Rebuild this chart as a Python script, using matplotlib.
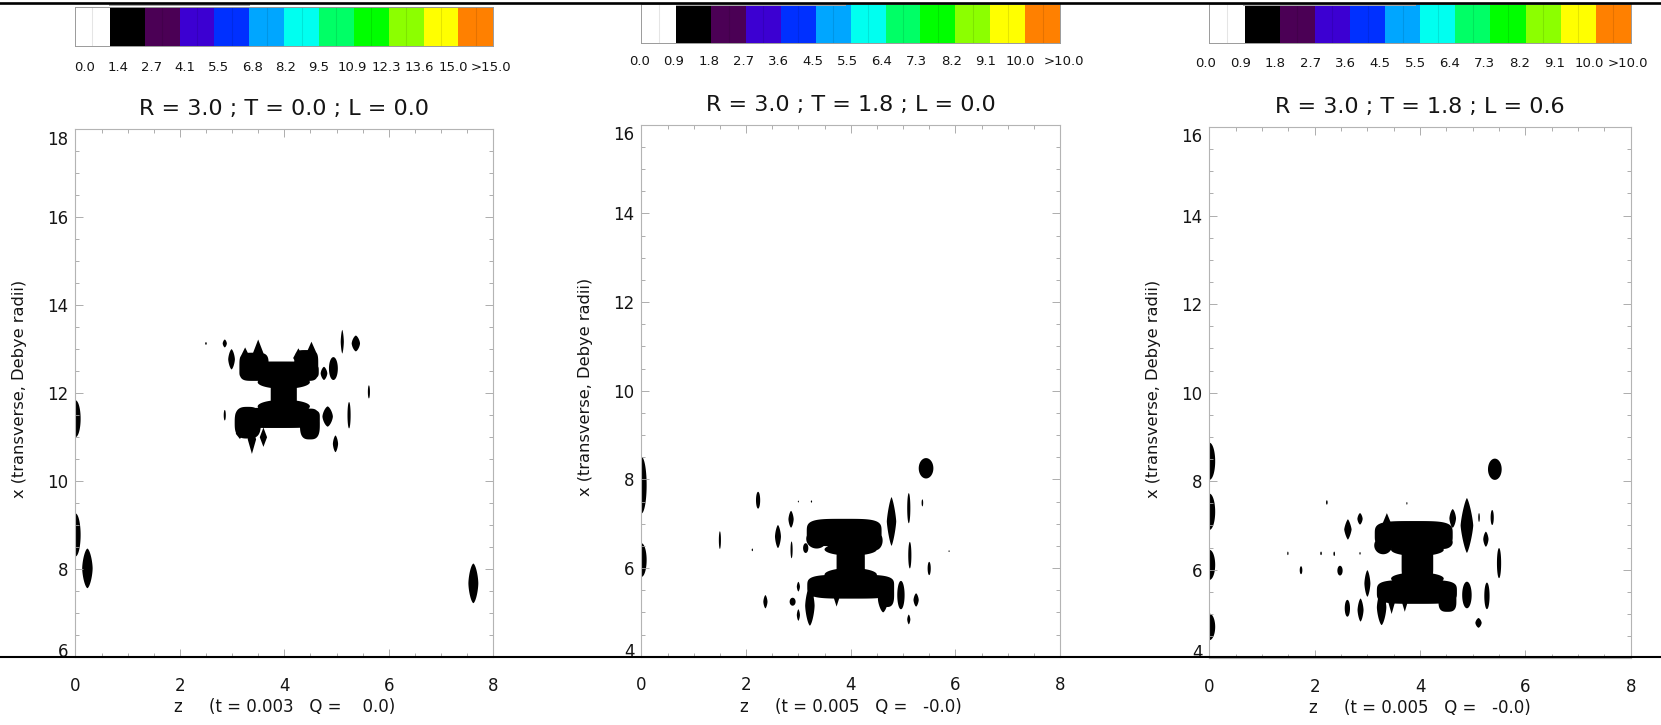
import numpy as np
import matplotlib
matplotlib.use("Agg")
import matplotlib.pyplot as plt
from matplotlib.colors import ListedColormap
from matplotlib.lines import Line2D
from matplotlib.patches import Rectangle
from matplotlib.transforms import ScaledTranslation, blended_transform_factory

plt.rcParams['font.family'] = ['DejaVu Sans']

W, H = 1661, 725

# ---------------- data ----------------
cb_colors = ['#ffffff', '#000000', '#4b0055', '#3c00d2', '#0030ff', '#00a6ff',
             '#00fff0', '#00ff66', '#00ff00', '#8cff00', '#ffff00', '#ff8000']
levels_p1 = [0.0, 1.4, 2.7, 4.1, 5.5, 6.8, 8.2, 9.5, 10.9, 12.3, 13.6, 15.0]
levels_p23 = [0.0, 0.9, 1.8, 2.7, 3.6, 4.5, 5.5, 6.4, 7.3, 8.2, 9.1, 10.0]
cb_labels_p1 = ['0.0', '1.4', '2.7', '4.1', '5.5', '6.8', '8.2', '9.5', '10.9',
                '12.3', '13.6', '15.0', '>15.0']
cb_labels_p23 = ['0.0', '0.9', '1.8', '2.7', '3.6', '4.5', '5.5', '6.4', '7.3',
                 '8.2', '9.1', '10.0', '>10.0']

titles = ['R = 3.0 ; T = 0.0 ; L = 0.0',
          'R = 3.0 ; T = 1.8 ; L = 0.0',
          'R = 3.0 ; T = 1.8 ; L = 0.6']
xlabels = ['z     (t = 0.003   Q =    0.0)',
           'z     (t = 0.005   Q =   -0.0)',
           'z     (t = 0.005   Q =   -0.0)']
ylabel = 'x (transverse, Debye radii)'

z_range = (0.0, 8.0)
z_ticks = [0, 2, 4, 6, 8]
x_range_p1 = (6.0, 18.0)
x_range_p23 = (4.0, 16.0)
x_ticks_p1 = [6, 8, 10, 12, 14, 16, 18]
x_ticks_p23 = [4, 6, 8, 10, 12, 14, 16]

# density blobs: centre z, centre x, half size in z, half size in x, shape exponent
p1_z = [3.90, 3.42, 4.42, 3.50, 3.25, 4.27, 4.52, 3.99, 3.99, 3.99, 3.87, 3.30, 4.49, 3.38, 3.60, 3.15,
        2.86, 2.99, 2.50, 5.11, 5.37, 4.94, 4.76, 5.62, 2.86, 4.83, 5.24, 4.98,
        0.00, 0.00, 0.23, 7.62]
p1_x = [12.50, 12.60, 12.63, 12.85, 12.80, 12.80, 12.85, 11.98, 12.25, 11.70, 11.44, 11.33, 11.30, 10.95, 11.00, 11.08,
        13.13, 12.77, 13.13, 13.17, 13.13, 12.56, 12.45, 12.03, 11.50, 11.47, 11.50, 10.85,
        11.42, 8.78, 8.02, 7.68]
p1_hz = [0.76, 0.28, 0.23, 0.12, 0.10, 0.10, 0.12, 0.25, 0.50, 0.50, 0.81, 0.25, 0.19, 0.08, 0.07, 0.08,
         0.04, 0.064, 0.015, 0.03, 0.08, 0.085, 0.064, 0.02, 0.02, 0.10, 0.03, 0.05,
         0.10, 0.10, 0.10, 0.095]
p1_hx = [0.22, 0.32, 0.35, 0.37, 0.24, 0.22, 0.32, 0.40, 0.15, 0.15, 0.23, 0.36, 0.35, 0.33, 0.22, 0.12,
         0.09, 0.23, 0.03, 0.27, 0.18, 0.26, 0.15, 0.15, 0.12, 0.23, 0.30, 0.19,
         0.42, 0.49, 0.45, 0.45]
p1_shape = [4, 4, 4, 1, 1, 1, 1, 6, 2, 2, 4, 3, 3, 1, 1, 1,
            1.5, 1.5, 2, 1.5, 1.5, 2, 1.5, 2, 2, 1.5, 2, 1.5,
            2, 2, 1.6, 1.6]

p2_z = [3.875, 3.35, 4.47, 4.00, 4.00, 4.00, 4.00, 3.22, 3.73, 4.62, 4.68,
        5.44, 4.78, 5.11, 5.37, 5.13, 5.50, 5.88, 4.96, 5.25, 5.11, 2.23, 2.86, 2.61, 1.50,
        2.12, 2.87, 3.14, 3.00, 3.25, 3.00, 2.37, 2.89, 3.00,
        0.00, 0.00]
p2_x = [6.80, 6.66, 6.62, 6.10, 6.42, 5.85, 5.58, 5.15, 5.35, 5.30, 5.42,
        8.25, 7.05, 7.35, 7.47, 6.29, 5.99, 6.38, 5.39, 5.28, 4.84, 7.53, 7.10, 6.71, 6.63,
        6.41, 6.41, 6.45, 7.50, 7.50, 5.58, 5.24, 5.24, 4.94,
        7.87, 6.18]
p2_hz = [0.715, 0.20, 0.14, 0.27, 0.50, 0.50, 0.83, 0.09, 0.06, 0.10, 0.15,
         0.14, 0.09, 0.03, 0.015, 0.03, 0.03, 0.01, 0.07, 0.05, 0.03, 0.04, 0.05, 0.057, 0.02,
         0.012, 0.02, 0.05, 0.01, 0.012, 0.03, 0.04, 0.057, 0.03,
         0.10, 0.10]
p2_hx = [0.31, 0.22, 0.22, 0.36, 0.14, 0.15, 0.27, 0.45, 0.22, 0.30, 0.30,
         0.23, 0.55, 0.34, 0.08, 0.30, 0.15, 0.02, 0.32, 0.15, 0.11, 0.19, 0.19, 0.26, 0.20,
         0.03, 0.19, 0.11, 0.02, 0.025, 0.11, 0.15, 0.09, 0.13,
         0.64, 0.38]
p2_shape = [4, 2, 2, 6, 2, 2, 4, 1.5, 1, 1.5, 3,
            2, 1.3, 2, 2, 2, 2, 2, 2, 1.5, 1.5, 2, 1.5, 1.5, 2,
            2, 2, 2, 2, 2, 1.5, 1.5, 2, 1.5,
            2, 2]

p3_z = [3.88, 3.30, 4.45, 3.37, 3.95, 3.95, 3.95, 3.94, 4.52, 3.27, 3.46, 3.71,
        5.42, 4.89, 4.62, 5.37, 5.12, 5.25, 5.50, 4.89, 5.27, 5.11, 2.63, 2.86, 2.23,
        1.49, 2.12, 2.37, 2.86, 1.74, 2.48, 3.00, 2.62, 2.87, 3.75,
        0.00, 0.00, 0.00, 0.00]
p3_x = [6.79, 6.55, 6.62, 7.05, 6.15, 6.45, 5.80, 5.50, 5.30, 5.15, 5.25, 5.25,
        8.27, 7.00, 7.16, 7.18, 7.18, 6.69, 6.15, 5.43, 5.41, 4.80, 6.91, 7.15, 7.52,
        6.37, 6.37, 6.36, 6.37, 5.99, 5.98, 5.69, 5.13, 5.09, 7.50,
        8.45, 7.31, 6.11, 4.71]
p3_hz = [0.74, 0.17, 0.17, 0.08, 0.30, 0.50, 0.50, 0.76, 0.17, 0.09, 0.06, 0.05,
         0.13, 0.12, 0.063, 0.03, 0.015, 0.05, 0.04, 0.09, 0.05, 0.06, 0.07, 0.05, 0.015,
         0.012, 0.015, 0.015, 0.012, 0.025, 0.05, 0.057, 0.05, 0.057, 0.01,
         0.11, 0.11, 0.11, 0.11]
p3_hx = [0.31, 0.20, 0.15, 0.23, 0.35, 0.14, 0.14, 0.27, 0.25, 0.40, 0.25, 0.20,
         0.24, 0.62, 0.21, 0.17, 0.10, 0.17, 0.34, 0.30, 0.30, 0.11, 0.23, 0.13, 0.05,
         0.04, 0.04, 0.05, 0.03, 0.09, 0.11, 0.30, 0.19, 0.26, 0.03,
         0.42, 0.41, 0.34, 0.30]
p3_shape = [4, 2, 2, 1, 6, 2, 2, 4, 3, 1.5, 1, 1,
            2, 1.3, 1.5, 2, 2, 1.5, 2, 2, 2, 1.5, 1.3, 1.5, 2,
            2, 2, 2, 2, 2, 2, 1.5, 2, 1.5, 2,
            2, 2, 2, 2]


# ---------------- helpers ----------------
def frac(x0, y0, x1, y1):
    return [x0 / W, 1 - y1 / H, (x1 - x0) / W, (y1 - y0) / H]


def build_field(zs, xs, hzs, hxs, shapes, xr, levels):
    lvl = levels[1]
    amp = 0.5 * (levels[1] + levels[2]) * 1.05
    zg = np.linspace(z_range[0], z_range[1], 1601)
    xg = np.linspace(xr[0], xr[1], 2401)
    F = np.zeros((xg.size, zg.size))
    for zc, xc, hz, hx, p in zip(zs, xs, hzs, hxs, shapes):
        i0 = np.searchsorted(zg, zc - 3 * hz)
        i1 = np.searchsorted(zg, zc + 3 * hz) + 1
        j0 = np.searchsorted(xg, xc - 3 * hx)
        j1 = np.searchsorted(xg, xc + 3 * hx) + 1
        if i1 <= i0 or j1 <= j0:
            continue
        dz = np.abs((zg[i0:i1] - zc) / hz)
        dx = np.abs((xg[j0:j1] - xc) / hx)
        d = (dz[None, :] ** p + dx[:, None] ** p) ** (1.0 / p)
        f = amp * (lvl / amp) ** d
        F[j0:j1, i0:i1] = np.maximum(F[j0:j1, i0:i1], f)
    return zg, xg, F


fig = plt.figure(figsize=(W / 100, H / 100), dpi=100)

panels = [
    dict(ax=(75.4, 129.1, 493.2, 657.3), cb=(75.0, 7.3, 493.3, 46.3),
         levels=levels_p1, cblab=cb_labels_p1, cbpos=[0.28 + 0.96 * i for i in range(12)] + [11.94],
         cblab_dy=21.5, xr=x_range_p1, xt=x_ticks_p1,
         blobs=(p1_z, p1_x, p1_hz, p1_hx, p1_shape)),
    dict(ax=(641.4, 124.7, 1060.0, 656.7), cb=(641.4, 3.5, 1060.0, 42.7),
         levels=levels_p23, cblab=cb_labels_p23, cbpos=[-0.06 + 0.994 * i for i in range(12)] + [12.1],
         cblab_dy=19.0, xr=x_range_p23, xt=x_ticks_p23,
         blobs=(p2_z, p2_x, p2_hz, p2_hx, p2_shape)),
    dict(ax=(1209.4, 127.0, 1630.7, 658.3), cb=(1209.4, 4.0, 1631.0, 42.7),
         levels=levels_p23, cblab=cb_labels_p23, cbpos=[-0.11 + 0.994 * i for i in range(12)] + [11.92],
         cblab_dy=20.6, xr=x_range_p23, xt=x_ticks_p23,
         blobs=(p3_z, p3_x, p3_hz, p3_hx, p3_shape)),
]

cmap = ListedColormap(cb_colors)
frame_col = '#b4b4b4'
tick_col = '#a0a0a0'
text_col = '#151515'

for k, P in enumerate(panels):
    # ---- colour bar ----
    cax = fig.add_axes(frac(*P['cb']))
    cax.pcolormesh(np.arange(13), [0, 1], np.arange(12)[None, :], cmap=cmap,
                   vmin=-0.5, vmax=11.5, shading='flat')
    cax.vlines(np.arange(12) + 0.5, 0, 1, colors='k', alpha=0.10, lw=0.8)
    cax.set_xlim(0, 12)
    cax.set_ylim(0, 1)
    cax.set_xticks([])
    cax.set_yticks([])
    for s in cax.spines.values():
        s.set_color('#9a9a9a')
        s.set_linewidth(0.7)
    tr = blended_transform_factory(cax.transData, cax.transAxes)
    for pos, lab in zip(P['cbpos'], P['cblab']):
        cax.annotate(lab, xy=(pos, 0), xycoords=tr, xytext=(0, -P['cblab_dy']),
                     textcoords='offset pixels', ha='center', va='center',
                     fontsize=9.5, color=text_col, annotation_clip=False)

    # ---- main contour panel ----
    ax = fig.add_axes(frac(*P['ax']))
    zg, xg, F = build_field(*P['blobs'], P['xr'], P['levels'])
    ax.contourf(zg, xg, F, levels=list(P['levels']) + [1e3], colors=cb_colors,
                antialiased=True)
    ax.set_xlim(*z_range)
    ax.set_ylim(*P['xr'])
    ax.set_xticks(z_ticks)
    ax.set_yticks(P['xt'])
    ax.set_xticks(np.arange(0, 8.01, 0.5), minor=True)
    ax.set_yticks(np.arange(P['xr'][0], P['xr'][1] + 0.01, 0.5), minor=True)
    ax.tick_params(which='both', direction='in', top=True, right=True,
                   color=tick_col, width=0.6, labelcolor=text_col, labelsize=12)
    ax.tick_params(which='major', length=5.5)
    ax.tick_params(which='minor', length=3)
    ax.tick_params(axis='x', pad=14)
    ax.tick_params(axis='y', pad=5)
    for s in ax.spines.values():
        s.set_color(frame_col)
        s.set_linewidth(0.8)
    # shift the extreme y tick labels inward
    ylabs = ax.get_yticklabels()
    ylabs[-1].set_transform(ylabs[-1].get_transform() + ScaledTranslation(0, -8.5 / 100, fig.dpi_scale_trans))
    ylabs[0].set_transform(ylabs[0].get_transform() + ScaledTranslation(0, 7 / 100, fig.dpi_scale_trans))

    ax.annotate(titles[k], xy=(0.5, 1), xycoords='axes fraction', xytext=(0, 20),
                textcoords='offset pixels', ha='center', va='center',
                fontsize=16, color=text_col)
    ax.annotate(xlabels[k], xy=(0.5, 0), xycoords='axes fraction', xytext=(0, -50),
                textcoords='offset pixels', ha='center', va='center',
                fontsize=12, color=text_col)
    ax.annotate(ylabel, xy=(0, 0.5), xycoords='axes fraction', xytext=(-56, 4),
                textcoords='offset pixels', ha='center', va='center', rotation=90,
                fontsize=11.7, color=text_col)

# page border lines and small grey marks of the original scan
fig.add_artist(Line2D([0, 1], [1 - 2.7 / H, 1 - 2.7 / H], transform=fig.transFigure,
                      color='black', lw=1.9, zorder=20))
fig.add_artist(Line2D([0, 1], [1 - 657.3 / H, 1 - 657.3 / H], transform=fig.transFigure,
                      color='black', lw=1.5, zorder=20))
for x0, x1 in [(109, 250), (676, 846), (1243, 1416)]:
    fig.add_artist(Rectangle((x0 / W, 1 - 6.0 / H), (x1 - x0) / W, 2.0 / H,
                             transform=fig.transFigure, color='#a8a8a8', lw=0, zorder=19))

fig.savefig('out.png', dpi=100)
